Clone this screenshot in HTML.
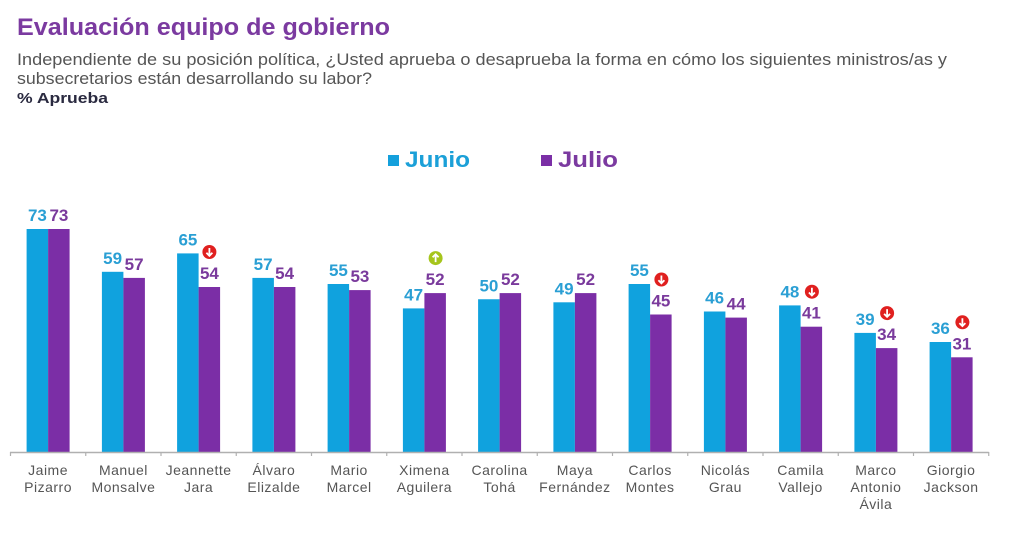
<!DOCTYPE html>
<html>
<head>
<meta charset="utf-8">
<style>
html,body{margin:0;padding:0;background:#fff;}
svg{display:block;}
text{font-family:"Liberation Sans",Arial,sans-serif;}
</style>
</head>
<body>
<svg width="1024" height="542" viewBox="0 0 1024 542" xmlns="http://www.w3.org/2000/svg">
<rect width="1024" height="542" fill="#ffffff"/>
<text x="17" y="35" font-size="24" font-weight="bold" fill="#7b3aa0" textLength="373" lengthAdjust="spacingAndGlyphs">Evaluación equipo de gobierno</text>
<text x="17" y="65" font-size="16.5" fill="#555555" textLength="930" lengthAdjust="spacingAndGlyphs">Independiente de su posición política, ¿Usted aprueba o desaprueba la forma en cómo los siguientes ministros/as y</text>
<text x="17" y="84" font-size="16.5" fill="#555555" textLength="355" lengthAdjust="spacingAndGlyphs">subsecretarios están desarrollando su labor?</text>
<text x="17" y="103" font-size="15" font-weight="bold" fill="#2a2a40" textLength="91" lengthAdjust="spacingAndGlyphs">% Aprueba</text>

<rect x="388" y="155" width="11" height="11" fill="#14a0dc"/>
<text x="405" y="167" font-size="22" font-weight="bold" fill="#1ba0d8" textLength="65" lengthAdjust="spacingAndGlyphs">Junio</text>
<rect x="541" y="155" width="11" height="11" fill="#7b2fa6"/>
<text x="558" y="167" font-size="22" font-weight="bold" fill="#7b3aa0" textLength="60" lengthAdjust="spacingAndGlyphs">Julio</text>

<!-- Junio bars -->
<g fill="#10a2de">
<rect x="26.6" y="229" width="21.5" height="223"/>
<rect x="101.9" y="271.8" width="21.5" height="180.2"/>
<rect x="177.1" y="253.4" width="21.5" height="198.6"/>
<rect x="252.4" y="277.9" width="21.5" height="174.1"/>
<rect x="327.6" y="284" width="21.5" height="168"/>
<rect x="402.9" y="308.4" width="21.5" height="143.6"/>
<rect x="478.1" y="299.25" width="21.5" height="152.75"/>
<rect x="553.4" y="302.3" width="21.5" height="149.7"/>
<rect x="628.6" y="284" width="21.5" height="168"/>
<rect x="703.9" y="311.5" width="21.5" height="140.5"/>
<rect x="779.1" y="305.4" width="21.5" height="146.6"/>
<rect x="854.4" y="332.9" width="21.5" height="119.1"/>
<rect x="929.6" y="342" width="21.5" height="110"/>
</g>
<!-- Julio bars -->
<g fill="#7b2ea6">
<rect x="48.1" y="229" width="21.5" height="223"/>
<rect x="123.4" y="277.9" width="21.5" height="174.1"/>
<rect x="198.6" y="287" width="21.5" height="165"/>
<rect x="273.9" y="287" width="21.5" height="165"/>
<rect x="349.1" y="290.1" width="21.5" height="161.9"/>
<rect x="424.4" y="293.1" width="21.5" height="158.9"/>
<rect x="499.6" y="293.1" width="21.5" height="158.9"/>
<rect x="574.9" y="293.1" width="21.5" height="158.9"/>
<rect x="650.1" y="314.5" width="21.5" height="137.5"/>
<rect x="725.4" y="317.6" width="21.5" height="134.4"/>
<rect x="800.6" y="326.7" width="21.5" height="125.3"/>
<rect x="875.9" y="348.1" width="21.5" height="103.9"/>
<rect x="951.1" y="357.3" width="21.5" height="94.7"/>
</g>
<!-- Junio labels -->
<g font-size="17" font-weight="bold" fill="#2a9fd4" text-anchor="middle">
<text x="37.4" y="221">73</text>
<text x="112.6" y="263.8">59</text>
<text x="187.9" y="245.4">65</text>
<text x="263.1" y="269.9">57</text>
<text x="338.4" y="276">55</text>
<text x="413.6" y="300.4">47</text>
<text x="488.9" y="291.3">50</text>
<text x="564.1" y="294.3">49</text>
<text x="639.4" y="276">55</text>
<text x="714.6" y="303.5">46</text>
<text x="789.9" y="297.4">48</text>
<text x="865.1" y="324.9">39</text>
<text x="940.4" y="334">36</text>
</g>
<!-- Julio labels -->
<g font-size="17" font-weight="bold" fill="#7a3a9c" text-anchor="middle">
<text x="58.9" y="221">73</text>
<text x="134.1" y="269.9">57</text>
<text x="209.4" y="279">54</text>
<text x="284.6" y="279">54</text>
<text x="359.9" y="282.1">53</text>
<text x="435.1" y="285.1">52</text>
<text x="510.4" y="285.1">52</text>
<text x="585.6" y="285.1">52</text>
<text x="660.9" y="306.5">45</text>
<text x="736.1" y="309.6">44</text>
<text x="811.4" y="318.7">41</text>
<text x="886.6" y="340.1">34</text>
<text x="961.9" y="349.3">31</text>
</g>
<!-- Icons -->
<g transform="translate(209.4,252)"><circle r="7" fill="#e0201f"/><path d="M0 -4 L0 3.5 M-3 0.8 L0 3.8 L3 0.8" stroke="#fff" stroke-width="1.8" fill="none"/></g>
<g transform="translate(435.6,258.1)"><circle r="7" fill="#a6c51c"/><path d="M0 4 L0 -3.5 M-3 -0.8 L0 -3.8 L3 -0.8" stroke="#fff" stroke-width="1.8" fill="none"/></g>
<g transform="translate(661.4,279.5)"><circle r="7" fill="#e0201f"/><path d="M0 -4 L0 3.5 M-3 0.8 L0 3.8 L3 0.8" stroke="#fff" stroke-width="1.8" fill="none"/></g>
<g transform="translate(811.9,291.7)"><circle r="7" fill="#e0201f"/><path d="M0 -4 L0 3.5 M-3 0.8 L0 3.8 L3 0.8" stroke="#fff" stroke-width="1.8" fill="none"/></g>
<g transform="translate(887.1,313.1)"><circle r="7" fill="#e0201f"/><path d="M0 -4 L0 3.5 M-3 0.8 L0 3.8 L3 0.8" stroke="#fff" stroke-width="1.8" fill="none"/></g>
<g transform="translate(962.4,322.3)"><circle r="7" fill="#e0201f"/><path d="M0 -4 L0 3.5 M-3 0.8 L0 3.8 L3 0.8" stroke="#fff" stroke-width="1.8" fill="none"/></g>

<!-- Axis -->
<line x1="10" y1="452.5" x2="988.75" y2="452.5" stroke="#b0b0b0" stroke-width="1.5"/>
<g stroke="#b0b0b0" stroke-width="1.2">
<line x1="10.5" y1="452" x2="10.5" y2="456"/>
<line x1="85.75" y1="452" x2="85.75" y2="456"/>
<line x1="161" y1="452" x2="161" y2="456"/>
<line x1="236.25" y1="452" x2="236.25" y2="456"/>
<line x1="311.5" y1="452" x2="311.5" y2="456"/>
<line x1="386.75" y1="452" x2="386.75" y2="456"/>
<line x1="462" y1="452" x2="462" y2="456"/>
<line x1="537.25" y1="452" x2="537.25" y2="456"/>
<line x1="612.5" y1="452" x2="612.5" y2="456"/>
<line x1="687.75" y1="452" x2="687.75" y2="456"/>
<line x1="763" y1="452" x2="763" y2="456"/>
<line x1="838.25" y1="452" x2="838.25" y2="456"/>
<line x1="913.5" y1="452" x2="913.5" y2="456"/>
<line x1="988.75" y1="452" x2="988.75" y2="456"/>
</g>
<!-- Category labels -->
<g font-size="14" fill="#555555" text-anchor="middle" letter-spacing="0.5">
<text x="48.1" y="475">Jaime</text><text x="48.1" y="492">Pizarro</text>
<text x="123.4" y="475">Manuel</text><text x="123.4" y="492">Monsalve</text>
<text x="198.6" y="475">Jeannette</text><text x="198.6" y="492">Jara</text>
<text x="273.9" y="475">Álvaro</text><text x="273.9" y="492">Elizalde</text>
<text x="349.1" y="475">Mario</text><text x="349.1" y="492">Marcel</text>
<text x="424.4" y="475">Ximena</text><text x="424.4" y="492">Aguilera</text>
<text x="499.6" y="475">Carolina</text><text x="499.6" y="492">Tohá</text>
<text x="574.9" y="475">Maya</text><text x="574.9" y="492">Fernández</text>
<text x="650.1" y="475">Carlos</text><text x="650.1" y="492">Montes</text>
<text x="725.4" y="475">Nicolás</text><text x="725.4" y="492">Grau</text>
<text x="800.6" y="475">Camila</text><text x="800.6" y="492">Vallejo</text>
<text x="875.9" y="475">Marco</text><text x="875.9" y="492">Antonio</text><text x="875.9" y="509">Ávila</text>
<text x="951.1" y="475">Giorgio</text><text x="951.1" y="492">Jackson</text>
</g>
</svg>
</body>
</html>
